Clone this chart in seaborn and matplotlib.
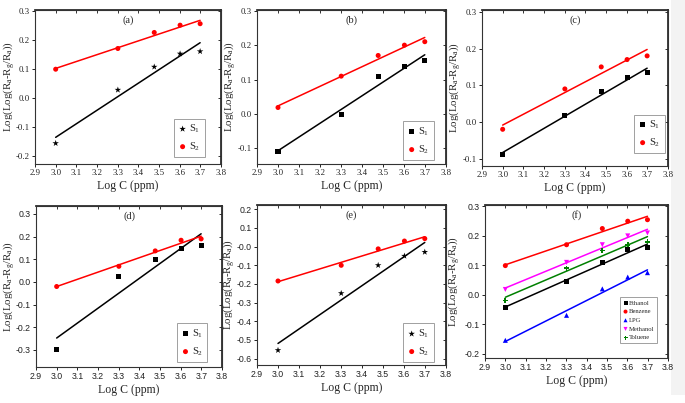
import matplotlib
matplotlib.use("Agg")
import matplotlib.pyplot as plt
import numpy as np
import pandas as pd
import seaborn as sns
from matplotlib.ticker import FormatStrFormatter
from matplotlib.patches import Rectangle

# ---------------- data ----------------
log_c = [3.0, 3.301, 3.477, 3.602, 3.699]
a_s1 = [-0.155, 0.028, 0.107, 0.152, 0.160]
a_s2 = [0.099, 0.170, 0.225, 0.250, 0.255]
b_s1 = [-0.108, 0.000, 0.110, 0.139, 0.155]
b_s2 = [0.019, 0.110, 0.170, 0.200, 0.210]
c_s1 = [-0.088, 0.018, 0.082, 0.120, 0.135]
c_s2 = [-0.020, 0.090, 0.150, 0.170, 0.180]
d_s1 = [-0.300, 0.025, 0.100, 0.147, 0.159]
d_s2 = [-0.020, 0.069, 0.137, 0.184, 0.190]
e_s1 = [-0.555, -0.250, -0.100, -0.050, -0.029]
e_s2 = [-0.184, -0.100, -0.012, 0.030, 0.043]
f_ethanol = [-0.042, 0.045, 0.110, 0.155, 0.160]
f_benzene = [0.099, 0.170, 0.225, 0.250, 0.255]
f_lpg = [-0.155, -0.070, 0.020, 0.060, 0.075]
f_methanol = [0.018, 0.110, 0.170, 0.200, 0.210]
f_toluene = [-0.020, 0.090, 0.150, 0.170, 0.180]

panel_labels = ["(a)", "(b)", "(c)", "(d)", "(e)", "(f)"]
series_labels = ["S$_1$", "S$_2$"]
gas_labels = ["Ethanol", "Benzene", "LPG", "Methanol", "Toluene"]
x_label = "Log C (ppm)"
y_label = "Log(Log(R$_a$-R$_g$/R$_a$))"

# ---------------- style ----------------
sns.set_theme(style="ticks")
plt.rcParams["font.family"] = ["Liberation Serif", "DejaVu Serif"]
plt.rcParams["mathtext.fontset"] = "custom"
plt.rcParams["mathtext.rm"] = "Liberation Serif"
plt.rcParams["mathtext.it"] = "Liberation Serif"
plt.rcParams["mathtext.default"] = "regular"

W, H = 685, 403
fig = plt.figure(figsize=(W / 100, H / 100), dpi=100)
fig.patch.set_facecolor("white")
fig.add_artist(Rectangle((671 / W, 8 / H), 14 / W, 1 - 8 / H, transform=fig.transFigure,
                         facecolor="#f3f3f3", edgecolor="none", zorder=-10))


def box(l, r, t, b):
    return [l / W, 1 - b / H, (r - l) / W, (b - t) / H]


specs = [
    dict(pos=box(35, 221, 10, 164), ylim=(-0.226, 0.302), ys=(-0.2, 0.3),
         data=[a_s1, a_s2], markers=["*", "o"], tickfont="serif",
         leg=(0.912, 0.045), ylab_x=17),
    dict(pos=box(257, 446, 10, 164), ylim=(-0.145, 0.302), ys=(-0.1, 0.3),
         data=[b_s1, b_s2], markers=["s", "o"], tickfont="serif",
         leg=(0.935, 0.026), ylab_x=238),
    dict(pos=box(482, 668, 10, 166), ylim=(-0.12, 0.305), ys=(-0.1, 0.3),
         data=[c_s1, c_s2], markers=["s", "o"], tickfont="serif",
         leg=(0.982, 0.083), ylab_x=463),
    dict(pos=box(36, 222, 206, 367), ylim=(-0.375, 0.335), ys=(-0.3, 0.3),
         data=[d_s1, d_s2], markers=["s", "o"], tickfont="sans",
         leg=(0.922, 0.031), ylab_x=17),
    dict(pos=box(257, 446, 205, 365), ylim=(-0.634, 0.223), ys=(-0.6, 0.2),
         data=[e_s1, e_s2], markers=["*", "o"], tickfont="sans",
         leg=(0.935, 0.019), ylab_x=237),
    dict(pos=box(485, 668, 205, 358), ylim=(-0.215, 0.305), ys=(-0.2, 0.3),
         data=[f_ethanol, f_benzene, f_lpg, f_methanol, f_toluene],
         markers=["s", "o", "^", "v", "P"], tickfont="sans",
         leg=(0.94, 0.098), ylab_x=462),
]

pair_colors = ["black", "red"]
gas_colors = ["black", "red", "blue", "magenta", "green"]

for i, sp in enumerate(specs):
    ax = fig.add_axes(sp["pos"])
    is_f = i == 5
    labels = gas_labels if is_f else series_labels
    colors = gas_colors if is_f else pair_colors
    handles = []
    for vals, lab, col, mk in zip(sp["data"], labels, colors, sp["markers"]):
        df = pd.DataFrame({"x": log_c, "y": vals})
        size = 24 if mk == "*" else 13
        sns.regplot(data=df, x="x", y="y", ax=ax, ci=None, scatter=False,
                    color=col, line_kws=dict(lw=1.1))
        sc = ax.scatter(df["x"], df["y"], marker=mk, s=size, color=col,
                        edgecolors="none", zorder=5, label=lab)
        handles.append(sc)

    ax.set_xlim(2.9, 3.8)
    ax.set_ylim(*sp["ylim"])
    xt = np.round(np.arange(2.9, 3.81, 0.1), 1)
    yt = np.round(np.arange(sp["ys"][0], sp["ys"][1] + 0.001, 0.1), 1)
    ax.set_xticks(xt)
    ax.set_yticks(yt)
    ax.xaxis.set_major_formatter(FormatStrFormatter("%.1f"))
    ax.yaxis.set_major_formatter(FormatStrFormatter("%.1f"))
    tfam = ["Liberation Serif"] if sp["tickfont"] == "serif" else ["Liberation Sans"]
    ax.tick_params(direction="out", length=2.5, width=0.7, pad=1.2, labelsize=6.3,
                   colors="#222222")
    for t in ax.get_xticklabels() + ax.get_yticklabels():
        t.set_family(tfam)
    for s in ax.spines.values():
        s.set_visible(True)
        s.set_linewidth(0.8)
        s.set_color("#333333")
    # mirrored inward ticks on top and right
    sx = ax.secondary_xaxis("top")
    sx.set_xticks(xt)
    sx.tick_params(direction="in", length=2.5, width=0.7, labeltop=False, colors="#333333")
    sy = ax.secondary_yaxis("right")
    sy.set_yticks(yt)
    sy.tick_params(direction="in", length=2.5, width=0.7, labelright=False, colors="#333333")

    ax.set_xlabel(x_label, fontsize=8.5, labelpad=2)
    ax.set_ylabel(y_label, fontsize=7.8)
    l, b, w, h = sp["pos"]
    ax.yaxis.set_label_coords((sp["ylab_x"] / W - l) / w, 0.5)
    ax.text(0.5, 0.935, panel_labels[i], transform=ax.transAxes, ha="center",
            va="center", fontsize=7.5)

    if is_f:
        leg = ax.legend(handles=handles, loc="lower right", bbox_to_anchor=sp["leg"],
                        fontsize=4.8, frameon=True, fancybox=False, handletextpad=0.1,
                        handlelength=0.8, labelspacing=0.45, borderpad=0.4,
                        markerscale=0.8, borderaxespad=0)
    else:
        leg = ax.legend(handles=handles, loc="lower right", bbox_to_anchor=sp["leg"],
                        fontsize=7.5, frameon=True, fancybox=False, handletextpad=0.2,
                        handlelength=0.9, labelspacing=0.5, borderpad=0.4,
                        borderaxespad=0)
    leg.get_frame().set_edgecolor("#888888")
    leg.get_frame().set_linewidth(0.7)

fig.savefig("out.png", dpi=100, facecolor="white")
